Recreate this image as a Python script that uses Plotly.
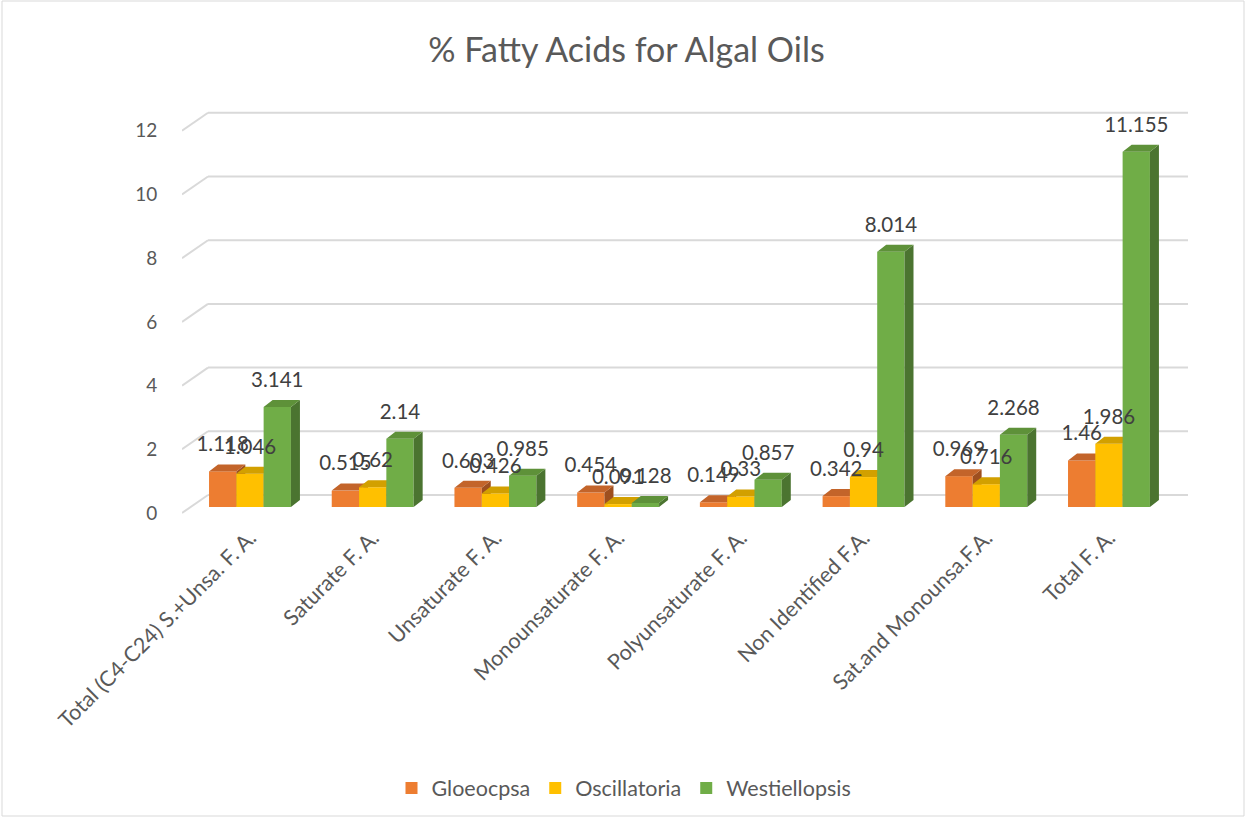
import plotly.graph_objects as go

# ---------------- data ----------------
categories = ["Total (C4-C24) S.+Unsa. F. A.", "Saturate F. A.", "Unsaturate F. A.",
              "Monounsaturate F. A.", "Polyunsaturate F. A.", "Non Identified F.A.",
              "Sat.and Monounsa.F.A.", "Total F. A."]
series_names = ["Gloeocpsa", "Oscillatoria", "Westiellopsis"]
gloeocpsa = [1.118, 0.515, 0.603, 0.454, 0.149, 0.342, 0.969, 1.46]
oscillatoria = [1.046, 0.62, 0.426, 0.091, 0.33, 0.94, 0.716, 1.986]
westiellopsis = [3.141, 2.14, 0.985, 0.128, 0.857, 8.014, 2.268, 11.155]
y_ticks = [0, 2, 4, 6, 8, 10, 12]

# ---------------- styles ----------------
front_colors = ["#ED7D31", "#FFC000", "#70AD47"]
top_colors = ["#C3642A", "#D2A000", "#5E9139"]
side_colors = ["#9E4F1F", "#A88000", "#4B7430"]
FONT = "Lato"

W, H = 1248, 822
plot_l, plot_r, plot_t, plot_b = 182, 1188, 100, 520
PXU = 31.85                      # pixels per value unit
x_range = [-0.554, 7.644]
xunit = (plot_r - plot_l) / (x_range[1] - x_range[0])
ph = plot_b - plot_t
r0 = -(plot_b - 507) / PXU
y_range = [r0, r0 + ph / PXU]

bw = 0.2225                      # bar width (category units)
dx = 9 / xunit                   # depth offset of bar
dy = 7 / PXU
gdx = 26 / xunit                 # depth of back wall (gridlines)
gdy_back = 12 / PXU
gdy_front = -6 / PXU
label_pad = 8 / PXU

data_series = [gloeocpsa, oscillatoria, westiellopsis]

fig = go.Figure()
axes = [("x", "y"), ("x2", "y2"), ("x3", "y3")]
for k, vals in enumerate(data_series):
    xa, ya = axes[k]
    centers = [i + (k - 1) * bw for i in range(len(vals))]
    sx, sy, tx, ty = [], [], [], []
    for c, v in zip(centers, vals):
        xl, xr = c - bw / 2, c + bw / 2
        sx += [xr, xr, xr + dx, xr + dx, xr, None]
        sy += [0, v, v + dy, dy, 0, None]
        tx += [xl, xr, xr + dx, xl + dx, xl, None]
        ty += [v, v, v + dy, v + dy, v, None]
    fig.add_trace(go.Scatter(x=sx, y=sy, fill="toself", fillcolor=side_colors[k], mode="none",
                             showlegend=False, hoverinfo="skip", xaxis=xa, yaxis=ya))
    fig.add_trace(go.Scatter(x=tx, y=ty, fill="toself", fillcolor=top_colors[k], mode="none",
                             showlegend=False, hoverinfo="skip", xaxis=xa, yaxis=ya))
    fig.add_trace(go.Bar(x=centers, y=vals, width=bw, name=series_names[k],
                         marker=dict(color=front_colors[k], line=dict(width=0)),
                         xaxis=xa, yaxis=ya))

# data labels on top layer
lx, ly, lt = [], [], []
for k, vals in enumerate(data_series):
    for i, v in enumerate(vals):
        lx.append(i + (k - 1) * bw)
        ly.append(v + dy + label_pad)
        lt.append(f"{v:g}")
fig.add_trace(go.Scatter(x=lx, y=ly, text=lt, mode="text", textposition="top center",
                         textfont=dict(family=FONT, size=20.5, color="#404040"),
                         showlegend=False, hoverinfo="skip", xaxis="x4", yaxis="y4"))

# gridlines (back wall with perspective slant)
shapes = []
for t in y_ticks:
    shapes.append(dict(type="line", xref="x", yref="y", layer="below",
                       x0=x_range[0] + gdx, x1=x_range[1], y0=t + gdy_back, y1=t + gdy_back,
                       line=dict(color="#D9D9D9", width=2)))
    shapes.append(dict(type="line", xref="x", yref="y", layer="below",
                       x0=x_range[0], x1=x_range[0] + gdx, y0=t + gdy_front, y1=t + gdy_back,
                       line=dict(color="#D9D9D9", width=2)))
# chart border
pw = plot_r - plot_l
shapes.append(dict(type="rect", xref="paper", yref="paper", layer="below",
                   x0=(2 - plot_l) / pw, x1=(1244 - plot_l) / pw,
                   y0=(plot_b - 816) / ph, y1=(plot_b - 1) / ph,
                   line=dict(color="#D9D9D9", width=1)))

hidden_x = dict(range=x_range, visible=False, fixedrange=True)
hidden_y = dict(range=y_range, visible=False, fixedrange=True)

fig.update_layout(
    width=W, height=H,
    margin=dict(l=plot_l, r=W - plot_r, t=plot_t, b=H - plot_b, autoexpand=False),
    paper_bgcolor="white", plot_bgcolor="white",
    barmode="overlay",
    title=dict(text="% Fatty Acids for Algal Oils", x=0.502, xref="container", xanchor="center",
               y=1 - 50 / H, yref="container", yanchor="middle",
               font=dict(family=FONT, size=34, color="#595959")),
    xaxis=dict(range=x_range, tickmode="array", tickvals=list(range(len(categories))),
               ticktext=categories, tickangle=-45, showgrid=False, zeroline=False,
               showline=False, ticks="", tickfont=dict(family=FONT, size=21.5, color="#595959"),
               fixedrange=True),
    yaxis=dict(range=y_range, tickmode="array", tickvals=y_ticks, showgrid=False,
               zeroline=False, showline=False, ticks="outside", ticklen=20,
               tickcolor="rgba(0,0,0,0)", ticklabelshift=6,
               tickfont=dict(family=FONT, size=19, color="#595959"), fixedrange=True),
    xaxis2=dict(hidden_x, overlaying="x"), yaxis2=dict(hidden_y, overlaying="y"),
    xaxis3=dict(hidden_x, overlaying="x"), yaxis3=dict(hidden_y, overlaying="y"),
    xaxis4=dict(hidden_x, overlaying="x"), yaxis4=dict(hidden_y, overlaying="y"),
    legend=dict(orientation="h", x=0.5, xanchor="center", xref="container",
                y=(H - 788) / H, yref="container", yanchor="middle",
                font=dict(family=FONT, size=21.5, color="#595959"), itemwidth=30,
                traceorder="normal"),
    shapes=shapes,
    showlegend=True,
)

fig.write_html("out.html")
